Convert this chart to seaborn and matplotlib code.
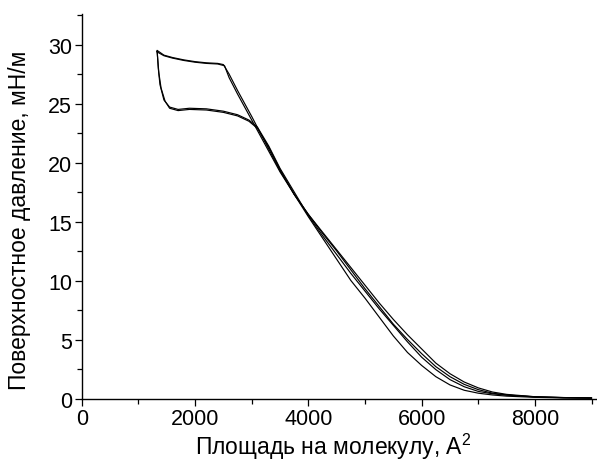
import numpy as np
import pandas as pd
import matplotlib
matplotlib.use("Agg")
import matplotlib.pyplot as plt
import seaborn as sns
from matplotlib.ticker import MultipleLocator

# Изотерма сжатия/расширения, два цикла
comp1_x = [9000, 8500, 8000, 7500, 7250, 7000, 6750, 6500, 6250, 6000, 5750, 5500, 5250, 5000,
           4750, 4500, 4250, 4000, 3750, 3500, 3250, 3000, 2750, 2600, 2500, 2400, 2200, 2000,
           1800, 1600, 1450, 1330]
comp1_y = [0.05, 0.08, 0.15, 0.35, 0.55, 0.9, 1.4, 2.1, 3.0, 4.2, 5.4, 6.7, 8.1, 9.6,
           11.1, 12.6, 14.1, 15.6, 17.3, 19.3, 21.6, 23.9, 26.1, 27.5, 28.3, 28.4, 28.45, 28.55,
           28.7, 28.9, 29.1, 29.5]

comp2_x = [9000, 8500, 8000, 7500, 7250, 7000, 6750, 6500, 6250, 6000, 5750, 5500, 5250, 5000,
           4750, 4500, 4250, 4000, 3750, 3500, 3250, 3000, 2750, 2600, 2520, 2400, 2200, 2000,
           1800, 1600, 1450, 1320]
comp2_y = [0.04, 0.07, 0.13, 0.3, 0.45, 0.75, 1.2, 1.85, 2.7, 3.8, 5.0, 6.3, 7.8, 9.3,
           10.9, 12.5, 14.0, 15.6, 17.3, 19.2, 21.4, 23.6, 25.8, 27.2, 28.2, 28.35, 28.4, 28.5,
           28.65, 28.85, 29.05, 29.4]

exp1_x = [1330, 1350, 1380, 1450, 1550, 1700, 1900, 2200, 2500, 2750, 2950, 3100, 3300, 3500,
          3750, 4000, 4250, 4500, 4750, 5000, 5250, 5500, 5750, 6000, 6250, 6500, 6750, 7000,
          7250, 7500, 8000, 8500, 9000]
exp1_y = [29.5, 28.0, 26.6, 25.3, 24.7, 24.5, 24.6, 24.55, 24.35, 24.05, 23.6, 23.0, 21.4, 19.5,
          17.5, 15.5, 13.8, 12.2, 10.6, 9.1, 7.6, 6.2, 4.8, 3.5, 2.45, 1.6, 1.0, 0.6,
          0.4, 0.28, 0.15, 0.08, 0.04]

exp2_x = [1330, 1360, 1400, 1470, 1550, 1700, 1900, 2200, 2500, 2750, 2950, 3100, 3300, 3500,
          3750, 4000, 4250, 4500, 4750, 5000, 5250, 5500, 5750, 6000, 6250, 6500, 6750, 7000,
          7250, 7500, 8000, 8500, 9000]
exp2_y = [29.4, 27.6, 26.3, 25.2, 24.6, 24.4, 24.5, 24.45, 24.25, 23.95, 23.5, 22.9, 21.3, 19.4,
          17.3, 15.4, 13.6, 11.8, 10.0, 8.5, 6.9, 5.3, 3.9, 2.8, 1.85, 1.15, 0.7, 0.45,
          0.3, 0.2, 0.1, 0.05, 0.03]

curves = {"comp1": (comp1_x, comp1_y), "comp2": (comp2_x, comp2_y),
          "exp1": (exp1_x, exp1_y), "exp2": (exp2_x, exp2_y)}

frames = []
for name, (xs, ys) in curves.items():
    frames.append(pd.DataFrame({"area": xs, "pressure": ys, "curve": name}))
df = pd.concat(frames, ignore_index=True)

sns.set_style("ticks")
plt.rcParams["font.family"] = ["Liberation Sans", "DejaVu Sans"]
plt.rcParams["mathtext.fontset"] = "custom"
plt.rcParams["mathtext.rm"] = "Liberation Sans"
plt.rcParams["text.color"] = "black"
plt.rcParams["axes.labelcolor"] = "black"

fig = plt.figure(figsize=(5.97, 4.64), dpi=100)
ax = fig.add_axes([0.137, 0.139, 0.863, 0.829])

sns.lineplot(data=df, x="area", y="pressure", hue="curve", units="curve", estimator=None,
             sort=False, palette=["black"] * 4, linewidth=0.85, legend=False, ax=ax)

ax.set_xlim(0, 9095)
ax.set_ylim(0, 32.6)
ax.xaxis.set_major_locator(MultipleLocator(2000))
ax.xaxis.set_minor_locator(MultipleLocator(1000))
ax.yaxis.set_major_locator(MultipleLocator(5))
ax.yaxis.set_minor_locator(MultipleLocator(2.5))
ax.tick_params(which="major", direction="out", length=5, width=0.9, labelsize=15.5,
               colors="black", pad=2)
ax.tick_params(which="minor", direction="out", length=3.5, width=0.9, colors="black")

for side in ["top", "right"]:
    ax.spines[side].set_visible(False)
for side in ["left", "bottom"]:
    ax.spines[side].set_linewidth(1.0)
    ax.spines[side].set_color("black")

ax.set_xlabel("Площадь на молекулу, A$^2$", fontsize=16.5, labelpad=0)
ax.set_ylabel("Поверхностное давление, мН/м", fontsize=16.5, labelpad=3)
ax.xaxis.set_label_coords(0.487, -0.085)
ax.yaxis.set_label_coords(-0.098, 0.467)

fig.savefig("out.png", dpi=100)
